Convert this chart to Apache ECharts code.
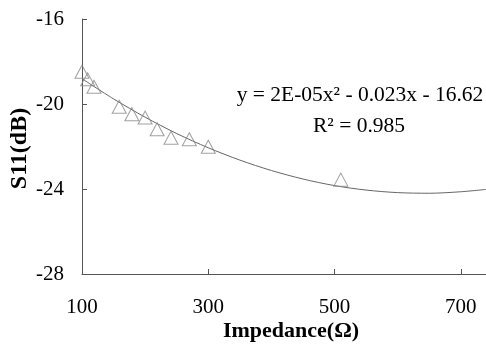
<!DOCTYPE html>
<html>
<head>
<meta charset="utf-8">
<script src="https://cdn.jsdelivr.net/npm/echarts@6/dist/echarts.min.js"></script>
<style>html,body{margin:0;padding:0;background:#fff}#c{width:486px;height:350px}</style>
</head>
<body>
<div id="c"></div>
<script>
// measured points
const impedance = [100, 109, 119, 159, 179, 200, 219, 241, 270, 300, 510];
const s11 = [-18.48, -18.84, -19.19, -20.13, -20.48, -20.64, -21.19, -21.59, -21.66, -22.01, -23.56];
// polynomial trendline
const trendX = [100, 150, 200, 250, 300, 350, 400, 450, 500, 550, 600, 650, 700, 740];
const trendY = [-18.81, -19.76, -20.62, -21.39, -22.06, -22.64, -23.13, -23.53, -23.84, -24.05, -24.17, -24.2, -24.13, -24.02];
const xTicks = [100, 300, 500, 700];
const yTicks = [-28, -24, -20, -16];
const equationText = 'y = 2E-05x² - 0.023x - 16.62';
const r2Text = 'R² = 0.985';

const font = '"Liberation Serif", "Times New Roman", serif';
const chart = echarts.init(document.getElementById('c'), null, {renderer: 'canvas'});
chart.setOption({
  animation: false,
  backgroundColor: '#fff',
  grid: {left: 82, right: 0, top: 19, bottom: 76, containLabel: false, outerBoundsMode: 'none'},
  xAxis: {
    type: 'value', min: 100, max: 740, interval: 200,
    name: 'Impedance(Ω)', nameLocation: 'middle', nameGap: 46, nameMoveOverlap: false,
    nameTextStyle: {fontFamily: font, fontWeight: 'bold', fontSize: 22, color: '#000', padding: [0, 0, 0, 14]},
    axisLine: {lineStyle: {color: '#555', width: 1}},
    axisTick: {inside: true, length: 5, lineStyle: {color: '#555'}},
    axisLabel: {fontFamily: font, fontSize: 21, color: '#000', margin: 23,
      formatter: v => xTicks.includes(v) ? String(v) : '', showMaxLabel: false},
    splitLine: {show: false}
  },
  yAxis: {
    type: 'value', min: -28, max: -16, interval: 4,
    name: 'S11(dB)', nameLocation: 'middle', nameGap: 50, nameMoveOverlap: false,
    nameTextStyle: {fontFamily: font, fontWeight: 'bold', fontSize: 24, color: '#000', padding: [0, 4, 0, 0]},
    axisLine: {show: true, lineStyle: {color: '#555', width: 1}},
    axisTick: {show: true, inside: true, length: 5, lineStyle: {color: '#555'}},
    axisLabel: {fontFamily: font, fontSize: 21, color: '#000', margin: 18,
      formatter: v => yTicks.includes(v) ? String(v) : ''},
    splitLine: {show: false}
  },
  series: [
    {type: 'line', data: trendX.map((x, i) => [x, trendY[i]]), showSymbol: false,
     smooth: 0.3,
     lineStyle: {color: '#666', width: 1}, z: 1},
    {type: 'scatter', data: impedance.map((x, i) => [x, s11[i]]),
     symbol: 'triangle', symbolSize: [14, 13],
     itemStyle: {color: 'rgba(255,255,255,0)', borderColor: '#888', borderWidth: 1}, z: 2}
  ],
  graphic: [
    {type: 'text', x: 360, y: 84, style: {text: equationText, font: '21.5px ' + font, fill: '#000', textAlign: 'center'}},
    {type: 'text', x: 359, y: 115, style: {text: r2Text, font: '21.5px ' + font, fill: '#000', textAlign: 'center'}}
  ]
});
</script>
</body>
</html>
